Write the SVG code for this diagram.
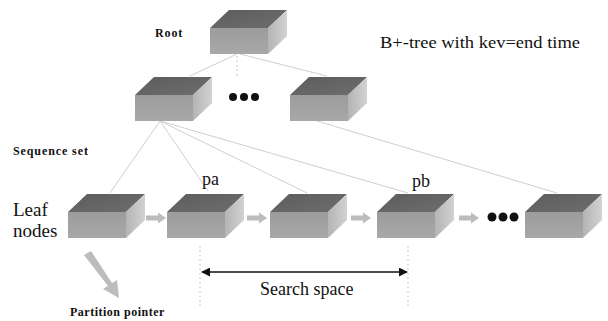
<svg xmlns="http://www.w3.org/2000/svg" width="608" height="321" viewBox="0 0 608 321">
  <rect width="608" height="321" fill="#fff"/>
  <defs>
    <linearGradient id="topGrad" x1="0" y1="0" x2="1" y2="1">
      <stop offset="0" stop-color="#5c5c5c"/>
      <stop offset="1" stop-color="#6e6e6e"/>
    </linearGradient>
    <linearGradient id="frontGrad" x1="0" y1="0" x2="0" y2="1">
      <stop offset="0" stop-color="#9c9c9c"/>
      <stop offset="1" stop-color="#a8a8a8"/>
    </linearGradient>
    <linearGradient id="sideGrad" x1="0" y1="0" x2="1" y2="0">
      <stop offset="0" stop-color="#b4b4b4"/>
      <stop offset="1" stop-color="#d2d2d2"/>
    </linearGradient>
    <!-- 3D block: origin is the top-left corner of the front face -->
    <g id="box">
      <polygon points="0,0 19,-18 77,-18 58,0" fill="url(#topGrad)"/>
      <rect x="0" y="0" width="58" height="26" fill="url(#frontGrad)"/>
      <polygon points="58,0 77,-18 77,8 58,26" fill="url(#sideGrad)"/>
    </g>
    <!-- thick grey link arrow pointing right, origin at tail centre -->
    <path id="rarrow" d="M0,-2.5 H12 V-5.5 L20,0 L12,5.5 V2.5 H0 Z"/>
    <marker id="blackHead" viewBox="0 0 10 10" refX="9" refY="5" markerWidth="9" markerHeight="9" markerUnits="userSpaceOnUse" orient="auto-start-reverse">
      <path d="M0,0 L10,5 L0,10 Z" fill="#111"/>
    </marker>
  </defs>

  <!-- tree edges -->
  <g id="connectors">
    <g stroke="#cfcfcf" stroke-width="1" fill="none">
      <line x1="237" y1="54" x2="190" y2="76"/>
      <line x1="240" y1="54" x2="327" y2="76"/>
      <line x1="160" y1="121" x2="110" y2="193"/>
      <line x1="160" y1="121" x2="208" y2="191"/>
      <line x1="160" y1="121" x2="307" y2="193"/>
      <line x1="160" y1="121" x2="408" y2="193"/>
      <line x1="317" y1="121" x2="557" y2="193"/>
    </g>
    <g stroke="#c4c4c4" stroke-width="1.2" stroke-dasharray="1.5 3" fill="none">
      <line x1="237" y1="56" x2="237" y2="78"/>
      <line x1="200" y1="246" x2="200" y2="306"/>
      <line x1="408" y1="246" x2="408" y2="306"/>
    </g>
    <!-- sibling links and partition pointer -->
    <g fill="#bcbcbc">
      <use href="#rarrow" x="146" y="218"/>
      <use href="#rarrow" x="247" y="218"/>
      <use href="#rarrow" x="351" y="218"/>
      <use href="#rarrow" x="459" y="218"/>
      <path d="M84,255 L91,251 L112,283 L117,280 L119,298 L103,289 L108,286 Z"/>
    </g>
    <!-- search range -->
    <line x1="202" y1="272" x2="407" y2="272" stroke="#111" stroke-width="1.5" marker-start="url(#blackHead)" marker-end="url(#blackHead)"/>
  </g>

  <g id="root">
    <use href="#box" x="210" y="28"/>
  </g>
  <g id="inner-left">
    <use href="#box" x="135" y="95"/>
  </g>
  <g id="inner-dots" fill="#111">
    <circle cx="233" cy="97" r="4"/>
    <circle cx="244" cy="97" r="4"/>
    <circle cx="255" cy="97" r="4"/>
  </g>
  <g id="inner-right">
    <use href="#box" x="290" y="95"/>
  </g>

  <g id="leaf1">
    <use href="#box" x="68" y="212"/>
  </g>
  <g id="leaf2">
    <use href="#box" x="167" y="212"/>
  </g>
  <g id="leaf3">
    <use href="#box" x="270" y="212"/>
  </g>
  <g id="leaf4">
    <use href="#box" x="377" y="212"/>
  </g>
  <g id="leaf-dots" fill="#111">
    <circle cx="492" cy="217" r="4.5"/>
    <circle cx="503" cy="217" r="4.5"/>
    <circle cx="514" cy="217" r="4.5"/>
  </g>
  <g id="leaf5">
    <use href="#box" x="525" y="212"/>
  </g>

  <g id="labels" fill="#111">
    <text font-family="Liberation Serif" font-size="12" font-weight="bold" letter-spacing="0.9" x="155" y="37">Root</text>
    <text font-family="Liberation Serif" font-size="17.5" x="380" y="48" textLength="200" lengthAdjust="spacingAndGlyphs">B+-tree with kev=end time</text>
    <text font-family="Liberation Serif" font-size="12" font-weight="bold" letter-spacing="0.9" x="13" y="155">Sequence set</text>
    <text font-family="Liberation Serif" font-size="19" x="13" y="216">Leaf</text>
    <text font-family="Liberation Serif" font-size="19" x="13" y="237">nodes</text>
    <text font-family="Liberation Serif" font-size="18" x="202" y="185">pa</text>
    <text font-family="Liberation Serif" font-size="18" x="412" y="187">pb</text>
    <text font-family="Liberation Serif" font-size="18" x="260" y="295">Search space</text>
    <text font-family="Liberation Serif" font-size="12" font-weight="bold" letter-spacing="0.5" x="70" y="316">Partition pointer</text>
  </g>
</svg>
